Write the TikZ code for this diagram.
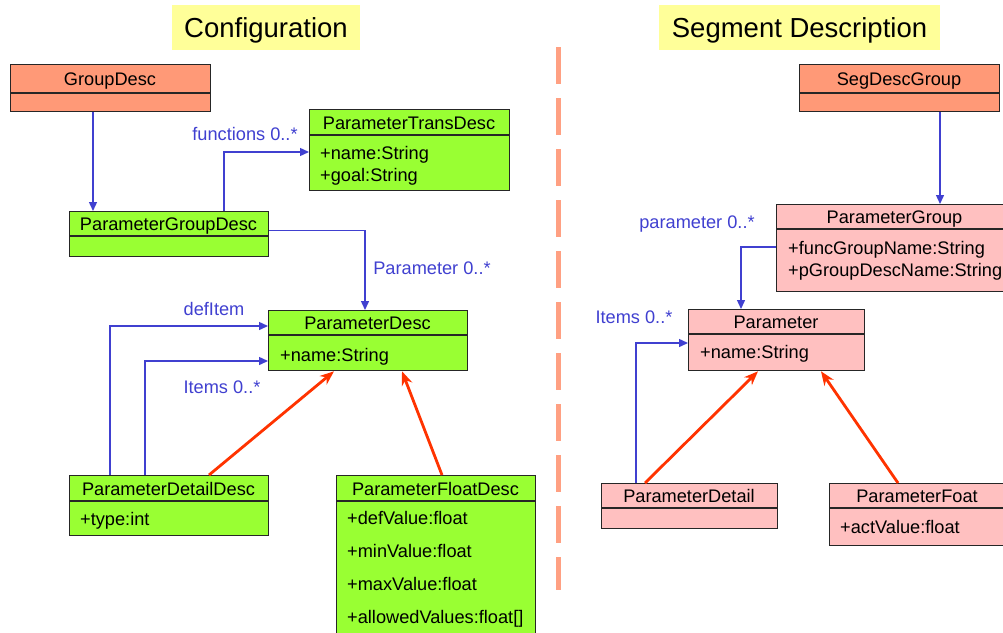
\documentclass[tikz,border=0pt]{standalone}
\usepackage{fontspec}
\setmainfont{Liberation Sans}
\usetikzlibrary{arrows.meta}

\definecolor{confgreen}{RGB}{153,255,51}
\definecolor{topsalmon}{RGB}{255,153,119}
\definecolor{segpink}{RGB}{255,192,192}
\definecolor{assocblue}{RGB}{64,64,208}
\definecolor{inhred}{RGB}{255,51,0}
\definecolor{titleyellow}{RGB}{255,255,153}
\definecolor{dashsalmon}{RGB}{255,160,130}

\begin{document}
\begin{tikzpicture}[x=1pt, y=-1pt,
	every node/.style={font=\fontsize{18.2}{22}\selectfont, inner sep=0pt, text height=13.1pt, text depth=0pt},
	cls/.style={draw=black!85, line width=1.3pt, anchor=north west},
	hdr/.style={draw=black!85, line width=1.3pt},
	attr/.style={anchor=west},
	lbl/.style={text=assocblue},
	heading/.style={fill=titleyellow, font=\fontsize{27.5}{32}\selectfont, text height=19.7pt, minimum height=45},
	assoc/.style={draw=assocblue, line width=1.4pt, -{Triangle[length=9pt, width=8pt]}},
	inherit/.style={draw=inhred, line width=2.8pt, -{Stealth[length=14pt, width=11pt]}}]
	\useasboundingbox (0,0) rectangle (1003,632);
	\clip (0,0) rectangle (1003,632);

	% headings and separator
	\node[heading, minimum width=188] (confhead) at (266,27.5) {Configuration};
	\node[heading, minimum width=281] (seghead) at (799.5,27.5) {Segment Description};
	\draw[dashsalmon, line width=5pt, dash pattern=on 37pt off 14pt] (558,47) -- (558,590);

	% configuration classes
	\node[cls, fill=topsalmon, minimum width=200, minimum height=47] (groupdesc) at (10,64) {};
	\draw[hdr] ([yshift=-29pt]groupdesc.north west) -- ([yshift=-29pt]groupdesc.north east);
	\node at (110,79) {GroupDesc};

	\node[cls, fill=confgreen, minimum width=200, minimum height=81] (ptdesc) at (309,109) {};
	\draw[hdr] ([yshift=-26pt]ptdesc.north west) -- ([yshift=-26pt]ptdesc.north east);
	\node at (409,122.5) {ParameterTransDesc};
	\node[attr] at (320,153) {+name:String};
	\node[attr] at (320,175) {+goal:String};

	\node[cls, fill=confgreen, minimum width=199, minimum height=45] (pgdesc) at (69,211) {};
	\draw[hdr] ([yshift=-25pt]pgdesc.north west) -- ([yshift=-25pt]pgdesc.north east);
	\node at (168.5,224) {ParameterGroupDesc};

	\node[cls, fill=confgreen, minimum width=199, minimum height=60] (pdesc) at (268,310) {};
	\draw[hdr] ([yshift=-25pt]pdesc.north west) -- ([yshift=-25pt]pdesc.north east);
	\node at (367.5,323) {ParameterDesc};
	\node[attr] at (280,355) {+name:String};

	\node[cls, fill=confgreen, minimum width=199, minimum height=60] (pddesc) at (69,475) {};
	\draw[hdr] ([yshift=-26pt]pddesc.north west) -- ([yshift=-26pt]pddesc.north east);
	\node at (168.5,488.5) {ParameterDetailDesc};
	\node[attr] at (80,519) {+type:int};

	\node[cls, fill=confgreen, minimum width=199, minimum height=175] (pfdesc) at (336,475) {};
	\draw[hdr] ([yshift=-26pt]pfdesc.north west) -- ([yshift=-26pt]pfdesc.north east);
	\node at (435.5,488.5) {ParameterFloatDesc};
	\node[attr] at (347,518) {+defValue:float};
	\node[attr] at (347,551) {+minValue:float};
	\node[attr] at (347,584) {+maxValue:float};
	\node[attr] at (347,617) {+allowedValues:float[]};

	% configuration connectors
	\draw[assoc] ([xshift=83pt]groupdesc.south west) -- ([xshift=24pt]pgdesc.north west);
	\draw[assoc] ([xshift=155pt]pgdesc.north west) |- ([yshift=-43pt]ptdesc.north west);
	\node[lbl] (functionslbl) at (245,134) {functions 0..*};
	\draw[assoc] ([yshift=3.5pt]pgdesc.east) -| ([xshift=97pt]pdesc.north west);
	\node[lbl] (paramlbl) at (432,268) {Parameter 0..*};
	\draw[assoc] ([xshift=41pt]pddesc.north west) |- ([yshift=-16pt]pdesc.north west);
	\node[lbl] (defitemlbl) at (214,309) {defItem};
	\draw[assoc] ([xshift=76pt]pddesc.north west) |- ([yshift=-51pt]pdesc.north west);
	\node[lbl] (itemslbl) at (222,387) {Items 0..*};
	\draw[inherit] ([xshift=140pt]pddesc.north west) -- ([xshift=66pt]pdesc.south west);
	\draw[inherit] ([xshift=106pt]pfdesc.north west) -- ([xshift=134pt]pdesc.south west);

	% segment description classes
	\node[cls, fill=topsalmon, minimum width=200, minimum height=47] (segdescgroup) at (799,64) {};
	\draw[hdr] ([yshift=-29pt]segdescgroup.north west) -- ([yshift=-29pt]segdescgroup.north east);
	\node at (899,79) {SegDescGroup};

	\node[cls, fill=segpink, minimum width=237, minimum height=87] (pgroup) at (776,204) {};
	\draw[hdr] ([yshift=-25pt]pgroup.north west) -- ([yshift=-25pt]pgroup.north east);
	\node at (894.5,217) {ParameterGroup};
	\node[attr] at (788,248) {+funcGroupName:String};
	\node[attr] at (788,270) {+pGroupDescName:String};

	\node[cls, fill=segpink, minimum width=176, minimum height=61] (param) at (688,309) {};
	\draw[hdr] ([yshift=-25pt]param.north west) -- ([yshift=-25pt]param.north east);
	\node at (776,322) {Parameter};
	\node[attr] at (700,352) {+name:String};

	\node[cls, fill=segpink, minimum width=176, minimum height=45] (pdetail) at (601,483) {};
	\draw[hdr] ([yshift=-25pt]pdetail.north west) -- ([yshift=-25pt]pdetail.north east);
	\node at (689,496) {ParameterDetail};

	\node[cls, fill=segpink, minimum width=176, minimum height=62] (pfoat) at (829,483) {};
	\draw[hdr] ([yshift=-25pt]pfoat.north west) -- ([yshift=-25pt]pfoat.north east);
	\node at (917,496) {ParameterFoat};
	\node[attr] at (840,527) {+actValue:float};

	% segment description connectors
	\draw[assoc] ([xshift=141pt]segdescgroup.south west) -- ([xshift=164pt]pgroup.north west);
	\draw[assoc] ([yshift=-43pt]pgroup.north west) -| ([xshift=53pt]param.north west);
	\node[lbl] (parameterlbl) at (697,222) {parameter 0..*};
	\draw[assoc] ([xshift=35pt]pdetail.north west) |- ([yshift=-34pt]param.north west);
	\node[lbl] (segitemslbl) at (634,317) {Items 0..*};
	\draw[inherit] ([xshift=44pt]pdetail.north west) -- ([xshift=70pt]param.south west);
	\draw[inherit] ([xshift=69pt]pfoat.north west) -- ([xshift=133pt]param.south west);
\end{tikzpicture}
\end{document}
